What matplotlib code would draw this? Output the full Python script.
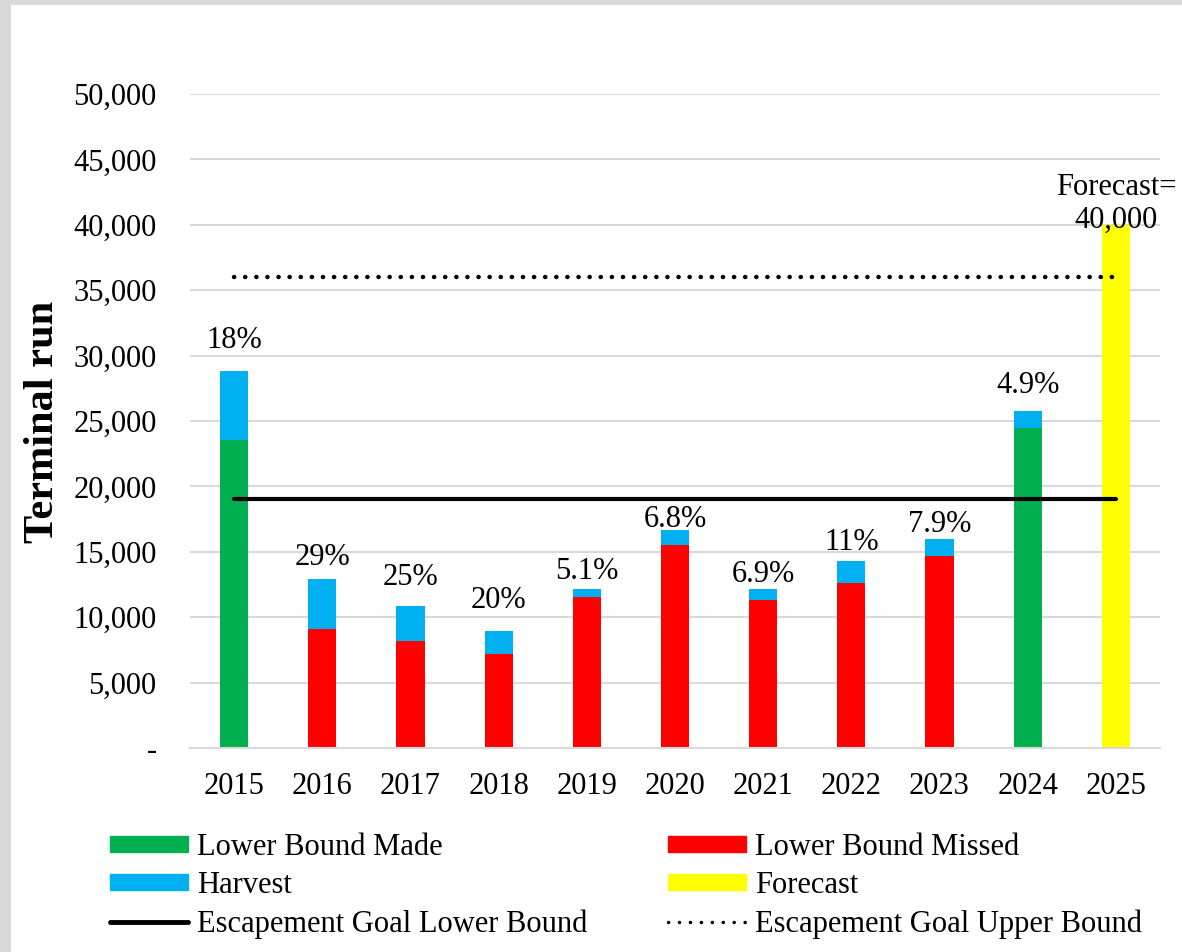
import matplotlib.pyplot as plt
from matplotlib.patches import Patch, Rectangle
from matplotlib.lines import Line2D
from matplotlib.ticker import FuncFormatter

plt.rcParams['font.family'] = ['Liberation Serif', 'DejaVu Serif']

years = ['2015', '2016', '2017', '2018', '2019', '2020', '2021', '2022', '2023', '2024', '2025']
escapement = [23550, 9100, 8150, 7200, 11520, 15550, 11280, 12650, 14700, 24500]
harvest = [5300, 3800, 2700, 1780, 630, 1150, 850, 1650, 1270, 1270]
harvest_pct = ['18%', '29%', '25%', '20%', '5.1%', '6.8%', '6.9%', '11%', '7.9%', '4.9%']
forecast = 40000
goal_lower = 19000
goal_upper = 36000

# gap (points) between bar top and label baseline, as placed in the original
label_gap = [16.5, 10, 15, 16, 7, 1.5, 5, 8, 5, 13]

GREEN = '#00B050'
RED = '#FF0000'
BLUE = '#00B0F0'
YELLOW = '#FFFF00'
GRID = '#D9D9D9'
FS = 22

fig = plt.figure(figsize=(11.82, 9.52), dpi=100, facecolor=GRID)
# white card with the grey frame left/top
fig.patches.append(Rectangle((11 / 1182, 0), 1, 1 - 5 / 952, transform=fig.transFigure,
                             facecolor='white', edgecolor='none', zorder=-10))

ax = fig.add_axes([190 / 1182, 1 - 748 / 952, 970 / 1182, 654 / 952])
ax.set_facecolor('none')

x = list(range(len(years)))
w = 0.32
past = x[:-1]
esc_colors = [GREEN if e >= goal_lower else RED for e in escapement]
ax.bar(past, escapement, width=w, color=esc_colors, zorder=2)
ax.bar(past, harvest, bottom=escapement, width=w, color=BLUE, zorder=2)
ax.bar(x[-1], forecast, width=w, color=YELLOW, zorder=2)

ax.plot([x[0], x[-1]], [goal_lower, goal_lower], color='black', lw=3, solid_capstyle='round', zorder=3)
ax.plot([x[0], x[-1]], [goal_upper, goal_upper], color='black', lw=3.2,
        linestyle=(0, (0.05, 2.45)), dash_capstyle='round', zorder=3)

for i, (e, h, lab, g) in enumerate(zip(escapement, harvest, harvest_pct, label_gap)):
    ax.annotate(lab, (i, e + h), xytext=(0, g), textcoords='offset points',
                ha='center', va='baseline', fontsize=FS, zorder=4)
ax.text(x[-1], forecast - 200, 'Forecast=\n40,000', ha='center', va='baseline',
        fontsize=FS, linespacing=1.15, zorder=4)

ax.set_xlim(-0.5, len(years) - 0.5)
ax.set_ylim(0, 50000)
ax.set_yticks(range(0, 50001, 5000))
ax.yaxis.set_major_formatter(FuncFormatter(lambda v, p: '-' if v == 0 else f'{int(v):,}'))
ax.set_xticks(x)
ax.set_xticklabels(years)
ax.tick_params(axis='both', length=0, labelsize=FS)
ax.tick_params(axis='y', pad=24)
ax.tick_params(axis='x', pad=17)
ax.grid(axis='y', color=GRID, lw=1.5, zorder=0)
ax.set_axisbelow(True)
for s in ['top', 'right', 'left']:
    ax.spines[s].set_visible(False)
ax.spines['bottom'].set_color(GRID)
ax.spines['bottom'].set_linewidth(1.5)

fig.text(43 / 1182, 1 - 422 / 952, 'Terminal run', rotation=90, ha='center', va='center',
         fontsize=30.5, fontweight='bold')

handles = [
    Patch(color=GREEN, label='Lower Bound Made'),
    Patch(color=BLUE, label='Harvest'),
    Line2D([], [], color='black', lw=3.5, solid_capstyle='round', label='Escapement Goal Lower Bound'),
    Patch(color=RED, label='Lower Bound Missed'),
    Patch(color=YELLOW, label='Forecast'),
    Line2D([], [], color='black', lw=2.5, linestyle=(0, (0.05, 3.1)), dash_capstyle='round',
           label='Escapement Goal Upper Bound'),
]
fig.legend(handles=handles, ncol=2, loc='upper left', bbox_to_anchor=(110 / 1182, 1 - 833 / 952),
           frameon=False, fontsize=FS, handlelength=2.55, handleheight=0.45, handletextpad=0.3,
           columnspacing=2.64, labelspacing=0.3, borderpad=0, borderaxespad=0)

fig.savefig('out.png', dpi=100, facecolor=fig.get_facecolor())
